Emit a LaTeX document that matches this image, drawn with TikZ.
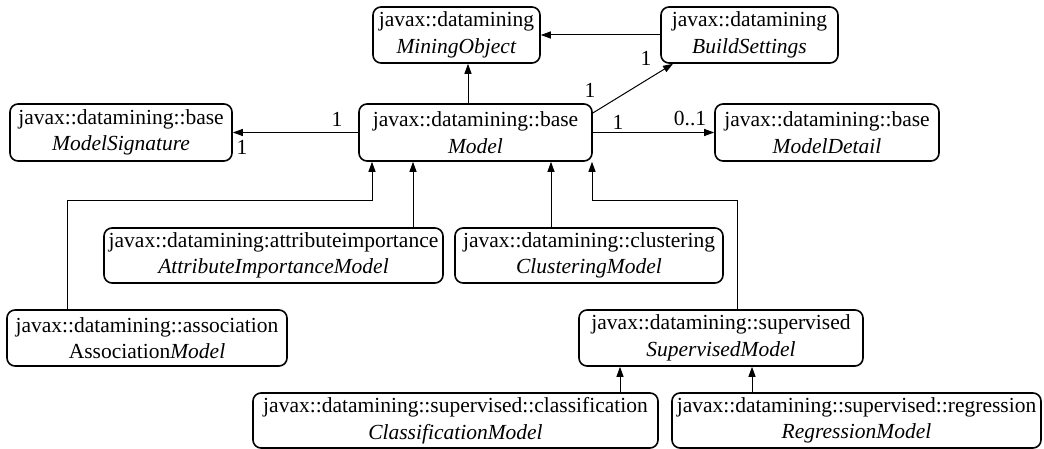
\documentclass[tikz,border=0pt]{standalone}
\usepackage{fontspec}
\setmainfont{Liberation Serif}
\usetikzlibrary{arrows.meta}
\begin{document}
\begin{tikzpicture}[x=1pt,y=-1pt,
  cls/.style={draw, line width=1.6pt, rounded corners=8pt, inner sep=0pt, align=center,
    font=\fontsize{21.5}{26.5}\selectfont},
  arr/.style={line width=1pt, -{Triangle[length=10pt,width=7pt]}},
  lab/.style={font=\fontsize{21.5}{26.5}\selectfont, inner sep=0pt}]
\useasboundingbox (0,0) rectangle (1044,449);
\node[cls, minimum width=167pt, minimum height=56pt] (mo) at (456.5,35) {javax::datamining\\\textit{MiningObject}};
\node[cls, minimum width=177pt, minimum height=56pt] (bs) at (749.5,35) {javax::datamining\\\textit{BuildSettings}};
\node[cls, minimum width=222pt, minimum height=57pt] (ms) at (121,132.5) {javax::datamining::base\\\textit{ModelSignature}};
\node[cls, minimum width=233pt, minimum height=57pt] (m) at (475.5,132.5) {javax::datamining::base\\\textit{Model}};
\node[cls, minimum width=224pt, minimum height=57pt] (md) at (827,132.5) {javax::datamining::base\\\textit{ModelDetail}};
\node[cls, minimum width=339pt, minimum height=55pt] (ai) at (273.5,255.5) {javax::datamining:attributeimportance\\\textit{AttributeImportanceModel}};
\node[cls, minimum width=268pt, minimum height=55pt] (cl) at (589,255.5) {javax::datamining::clustering\\\textit{ClusteringModel}};
\node[cls, minimum width=280pt, minimum height=56pt] (as) at (147,338) {javax::datamining::association\\Association\textit{Model}};
\node[cls, minimum width=284pt, minimum height=56pt] (sm) at (721,338) {javax::datamining::supervised\\\textit{SupervisedModel}};
\node[cls, minimum width=405pt, minimum height=55pt] (cm) at (455.5,420.5) {javax::datamining::supervised::classification\\\textit{ClassificationModel}};
\node[cls, minimum width=369pt, minimum height=55pt] (rm) at (856.5,420.5) {javax::datamining::supervised::regression\\\textit{RegressionModel}};
\coordinate (j1) at (372,201);
\coordinate (j2) at (592,201);
% associations
\draw[arr] ([xshift=-7.5pt]m.north) -- ([xshift=-7.5pt]m.north |- mo.south);
\draw[arr] (bs.west) -- (bs.west -| mo.east);
\draw[arr] ([yshift=19.5pt]m.east) -- ([xshift=-76.5pt]bs.south);
\draw[arr] (m.east) -- (md.west);
\draw[arr] (m.west) -- (ms.east);
\node[lab] (l1) at (337,119) {1};
\node[lab] (l2) at (242,147) {1};
\node[lab] (l3) at (590,90) {1};
\node[lab] (l4) at (646,58) {1};
\node[lab] (l5) at (618,122) {1};
\node[lab] (l6) at (690,119) {0..1};
% generalizations
\draw[arr] ([xshift=-80pt]as.north) |- (j1) -- (j1 |- m.south);
\draw[arr] ([xshift=139.5pt]ai.north) -- ([xshift=139.5pt]ai.north |- m.south);
\draw[arr] ([xshift=-38pt]cl.north) -- ([xshift=-38pt]cl.north |- m.south);
\draw[arr] ([xshift=16pt]sm.north) |- (j2) -- (j2 |- m.south);
\draw[arr] ([xshift=164.5pt]cm.north) -- ([xshift=164.5pt]cm.north |- sm.south);
\draw[arr] ([xshift=-104.5pt]rm.north) -- ([xshift=-104.5pt]rm.north |- sm.south);
\end{tikzpicture}
\end{document}
